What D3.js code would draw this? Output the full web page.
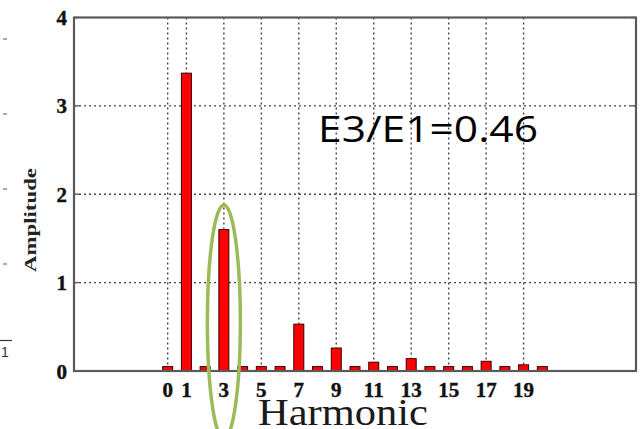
<!DOCTYPE html>
<html><head><meta charset="utf-8">
<script src="https://cdn.jsdelivr.net/npm/d3@7"></script>
<style>html,body{margin:0;padding:0;background:#fff;}svg{display:block;}</style>
</head><body>
<script>
const harmonics = [0,1,2,3,4,5,6,7,8,9,10,11,12,13,14,15,16,17,18,19,20];
const amplitudes = [0.05,3.37,0.05,1.6,0.05,0.05,0.05,0.53,0.05,0.26,0.05,0.10,0.05,0.14,0.05,0.05,0.05,0.11,0.05,0.07,0.05];
const xTicks = [0,1,3,5,7,9,11,13,15,17,19];
const yTicks = [0,1,2,3,4];
const annotation = "E3/E1=0.46";
const xTitle = "Harmonic";
const yTitle = "Amplitude";

const W = 640, H = 429;
const L = 74, R = 636, T = 17.5, B = 371;
const svg = d3.select("body").append("svg").attr("width", W).attr("height", H);
const x = d3.scaleLinear().domain([-5, 25]).range([L, R]);
const y = d3.scaleLinear().domain([0, 4]).range([B, T]);

// grid
const g = svg.append("g");
g.selectAll("line.vg").data(xTicks).join("line")
  .attr("x1", d => x(d)).attr("x2", d => x(d)).attr("y1", T).attr("y2", B)
  .attr("stroke", "#444").attr("stroke-width", 1.4).attr("stroke-dasharray", "2,3");
g.selectAll("line.hg").data(yTicks.filter(d => d > 0 && d < 4)).join("line")
  .attr("x1", L).attr("x2", R).attr("y1", d => y(d)).attr("y2", d => y(d))
  .attr("stroke", "#444").attr("stroke-width", 1.4).attr("stroke-dasharray", "2,3");

// inner y ticks
svg.append("g").selectAll("line").data(yTicks).join("line")
  .attr("x1", L).attr("x2", L + 5).attr("y1", d => y(d)).attr("y2", d => y(d))
  .attr("stroke", "#666").attr("stroke-width", 1.5);
svg.append("g").selectAll("line").data(yTicks).join("line")
  .attr("x1", R).attr("x2", R - 5).attr("y1", d => y(d)).attr("y2", d => y(d))
  .attr("stroke", "#666").attr("stroke-width", 1.5);

// bars
const bw = 10;
svg.append("g").selectAll("rect").data(harmonics).join("rect")
  .attr("x", d => x(d) - bw / 2).attr("width", bw)
  .attr("y", (d, i) => y(amplitudes[i])).attr("height", (d, i) => B - y(amplitudes[i]))
  .attr("fill", "#ff0000").attr("stroke", "#3a0000").attr("stroke-width", 1);

// frame
svg.append("rect").attr("x", L).attr("y", T).attr("width", R - L).attr("height", B - T)
  .attr("fill", "none").attr("stroke", "#5a5a5a").attr("stroke-width", 2.2);

// tick labels
const tf = "'Liberation Serif','Times New Roman',serif";
svg.append("g").selectAll("text").data(xTicks).join("text")
  .attr("x", d => x(d)).attr("y", 397).attr("text-anchor", "middle")
  .attr("font-family", tf).attr("font-weight", "bold").attr("font-size", 21).attr("fill", "#111")
  .attr("stroke", "#111").attr("stroke-width", 0.4)
  .text(d => d);
svg.append("g").selectAll("text").data(yTicks).join("text")
  .attr("x", 67).attr("y", d => y(d) + 7.5).attr("text-anchor", "end")
  .attr("font-family", tf).attr("font-weight", "bold").attr("font-size", 21).attr("fill", "#111")
  .attr("stroke", "#111").attr("stroke-width", 0.4)
  .text(d => d);

// axis titles
svg.append("text").attr("transform", "translate(36,220) rotate(-90)").attr("text-anchor", "middle")
  .attr("font-family", tf).attr("font-weight", "bold").attr("font-size", 16).attr("fill", "#222")
  .attr("textLength", 104).attr("lengthAdjust", "spacingAndGlyphs")
  .text(yTitle);
svg.append("text").attr("x", 343).attr("y", 425).attr("text-anchor", "middle")
  .attr("font-family", tf).attr("font-size", 38).attr("fill", "#1a1a1a")
  .attr("textLength", 170).attr("lengthAdjust", "spacingAndGlyphs")
  .text(xTitle);

// annotation
svg.append("text").attr("x", 318).attr("y", 142)
  .attr("font-family", "'Open Sans','Liberation Sans',sans-serif").attr("font-size", 36).attr("fill", "#000")
  .attr("textLength", 220).attr("lengthAdjust", "spacingAndGlyphs")
  .text(annotation);

// highlight ellipse
svg.append("ellipse").attr("cx", x(3)).attr("cy", 322).attr("rx", 16.5).attr("ry", 117)
  .attr("fill", "none").attr("stroke", "#9bbb59").attr("stroke-width", 3.5);

// left-edge remnants
const marks = [39, 114, 189, 264];
svg.append("g").selectAll("line").data(marks).join("line")
  .attr("x1", 3).attr("x2", 7).attr("y1", d => d).attr("y2", d => d)
  .attr("stroke", "#555").attr("stroke-width", 1);
svg.append("line").attr("x1", 0).attr("x2", 12).attr("y1", 340.5).attr("y2", 340.5)
  .attr("stroke", "#333").attr("stroke-width", 1.2);
svg.append("text").attr("x", 1).attr("y", 357).attr("font-family", "'Liberation Sans',sans-serif")
  .attr("font-size", 14).attr("fill", "#333").text("1");
</script>
</body></html>
